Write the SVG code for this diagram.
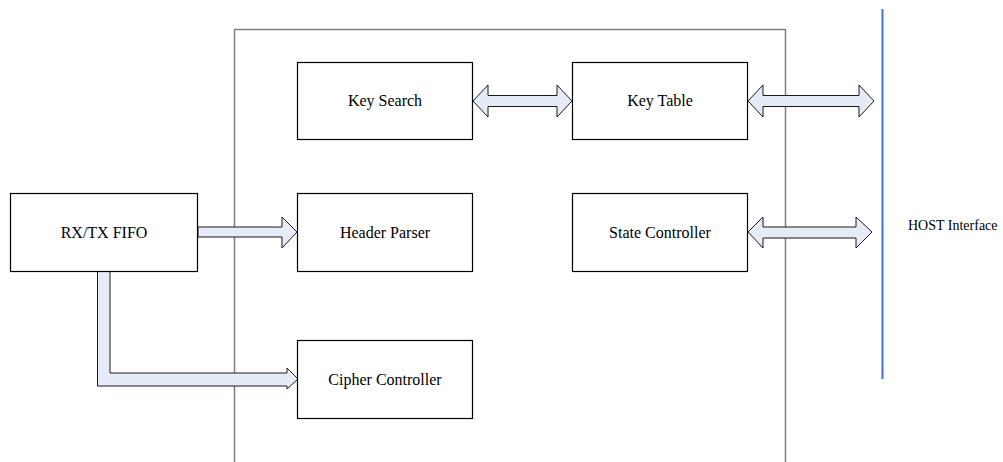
<svg xmlns="http://www.w3.org/2000/svg" width="1003" height="462" viewBox="0 0 1003 462">
<style>
.box{fill:#fff;stroke:#000;stroke-width:1.2}
.arr{fill:#E6ECF7;stroke:#1a1a1a;stroke-width:1}
</style>
<rect width="1003" height="462" fill="#fff"/>
<g id="frame"><path d="M234.5,462 V29.5 H785.5 V462" fill="none" stroke="#7f7f7f" stroke-width="1.5"/></g>
<g id="host">
<line x1="882.5" y1="9" x2="882.5" y2="379" stroke="#4472C4" stroke-width="2"/>
<text x="908" y="230" font-family="Liberation Serif, Times New Roman, serif" font-size="14" fill="#000">HOST Interface</text>
</g>
<g id="connectors">
<path class="arr" d="M473,101 L488,85 L488,95.5 L557,95.5 L557,85 L572,101 L557,117 L557,106.5 L488,106.5 L488,117 Z"/>
<path class="arr" d="M748,101 L763,85 L763,95.5 L859,95.5 L859,85 L874,101 L859,117 L859,106.5 L763,106.5 L763,117 Z"/>
<path class="arr" d="M748,232 L763,217 L763,227 L856,227 L856,217 L872,232 L856,248 L856,238 L763,238 L763,248 Z"/>
<path class="arr" d="M198,227 L282,227 L282,217 L297,232 L282,248 L282,237 L198,237 Z"/>
<path class="arr" stroke="#555" d="M97.5,272 L97.5,386 L287,386 L287,389 L298,379 L287,368 L287,373 L110,373 L110,272"/>
</g>
<g font-family="Liberation Serif, Times New Roman, serif" font-size="16" fill="#000" text-anchor="middle">
<g id="key-search"><rect class="box" x="297.5" y="62.5" width="175" height="77"/><text x="385" y="106">Key Search</text></g>
<g id="key-table"><rect class="box" x="572.5" y="62.5" width="175" height="77"/><text x="660" y="106">Key Table</text></g>
<g id="rxtx-fifo"><rect class="box" x="10.5" y="193.5" width="187" height="78"/><text x="104" y="238">RX/TX FIFO</text></g>
<g id="header-parser"><rect class="box" x="297.5" y="193.5" width="175" height="78"/><text x="385" y="238">Header Parser</text></g>
<g id="state-controller"><rect class="box" x="572.5" y="193.5" width="175" height="78"/><text x="660" y="238">State Controller</text></g>
<g id="cipher-controller"><rect class="box" x="297.5" y="340.5" width="175" height="78"/><text x="385" y="385">Cipher Controller</text></g>
</g>
</svg>
